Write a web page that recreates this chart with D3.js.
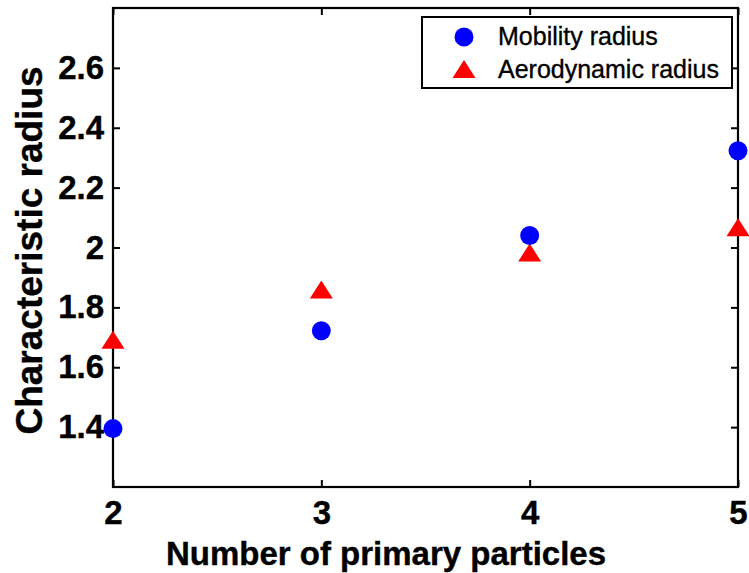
<!DOCTYPE html>
<html>
<head>
<meta charset="utf-8">
<script src="https://cdn.jsdelivr.net/npm/d3@7"></script>
<style>
  html, body { margin: 0; padding: 0; background: #fff; }
  svg { display: block; font-family: "Liberation Sans", Arial, Helvetica, sans-serif; }
</style>
</head>
<body>
<svg id="chart" width="749" height="573"></svg>
<script>
// Number of primary particles in the aggregate
const particles = [2, 3, 4, 5];
// Characteristic radii for each aggregate size
const mobilityRadius = [1.395, 1.722, 2.040, 2.323];
const aerodynamicRadius = [1.692, 1.860, 1.983, 2.068];
const yTicks = [1.4, 1.6, 1.8, 2.0, 2.2, 2.4, 2.6];
const xTicks = [2, 3, 4, 5];
const seriesNames = ["Mobility radius", "Aerodynamic radius"];

const svg = d3.select("#chart");
const plot = { left: 113, right: 738, top: 8, bottom: 487 };

const x = d3.scaleLinear().domain([2, 5]).range([plot.left, plot.right]);
const y = d3.scaleLinear().domain([1.2, 2.8]).range([plot.bottom, plot.top]);

const tickLen = 7;
const fmtY = d => (d === 2 ? "2" : d3.format(".1f")(d));

// Axes with inward ticks on all four sides
const axisStyle = g => {
  g.selectAll(".domain").remove();
  g.selectAll(".tick line").attr("stroke", "#000").attr("stroke-width", 2);
  g.selectAll(".tick text").attr("fill", "#000").attr("font-weight", "bold").attr("font-size", 33)
    .attr("stroke", "#000").attr("stroke-width", 0.4);
};

svg.append("g")
  .attr("transform", `translate(0,${plot.bottom})`)
  .call(d3.axisBottom(x).tickValues(xTicks).tickSize(-tickLen).tickPadding(14).tickFormat(d3.format("d")))
  .call(axisStyle);

svg.append("g")
  .attr("transform", `translate(0,${plot.top})`)
  .call(d3.axisTop(x).tickValues(xTicks).tickSize(-tickLen).tickFormat(""))
  .call(axisStyle);

svg.append("g")
  .attr("transform", `translate(${plot.left},0)`)
  .call(d3.axisLeft(y).tickValues(yTicks).tickSize(-tickLen).tickPadding(9).tickFormat(fmtY))
  .call(axisStyle);

svg.append("g")
  .attr("transform", `translate(${plot.right},0)`)
  .call(d3.axisRight(y).tickValues(yTicks).tickSize(-tickLen).tickFormat(""))
  .call(axisStyle);

// Plot frame
svg.append("rect")
  .attr("x", plot.left).attr("y", plot.top)
  .attr("width", plot.right - plot.left).attr("height", plot.bottom - plot.top)
  .attr("fill", "none").attr("stroke", "#000").attr("stroke-width", 2.2);

// Markers
const circleSym = d3.symbol().type(d3.symbolCircle).size(Math.PI * 9.5 * 9.5);
const triPath = (w, h) => `M0,${-h / 2}L${w / 2},${h / 2}L${-w / 2},${h / 2}Z`;

svg.append("g").selectAll("path")
  .data(particles.map((p, i) => [p, aerodynamicRadius[i]]))
  .join("path")
  .attr("transform", d => `translate(${x(d[0])},${y(d[1])})`)
  .attr("d", triPath(23, 18))
  .attr("fill", "#ff0000");

svg.append("g").selectAll("path")
  .data(particles.map((p, i) => [p, mobilityRadius[i]]))
  .join("path")
  .attr("transform", d => `translate(${x(d[0])},${y(d[1])})`)
  .attr("d", circleSym)
  .attr("fill", "#0000ff");

// Axis titles
svg.append("text")
  .attr("x", 386).attr("y", 565)
  .attr("text-anchor", "middle")
  .attr("font-size", 33).attr("font-weight", "bold")
  .attr("stroke", "#000").attr("stroke-width", 0.4)
  .text("Number of primary particles");

svg.append("text")
  .attr("transform", `translate(42,${(plot.top + plot.bottom) / 2 + 3}) rotate(-90)`)
  .attr("text-anchor", "middle")
  .attr("font-size", 37).attr("font-weight", "bold")
  .attr("stroke", "#000").attr("stroke-width", 0.4)
  .text("Characteristic radius");

// Legend
const legend = svg.append("g");
legend.append("rect")
  .attr("x", 422).attr("y", 17).attr("width", 310).attr("height", 71)
  .attr("fill", "#fff").attr("stroke", "#000").attr("stroke-width", 2);

legend.append("path")
  .attr("transform", "translate(464,37)")
  .attr("d", circleSym).attr("fill", "#0000ff");
legend.append("path")
  .attr("transform", "translate(464,69)")
  .attr("d", triPath(23, 18)).attr("fill", "#ff0000");

legend.selectAll("text.lab")
  .data(seriesNames)
  .join("text")
  .attr("class", "lab")
  .attr("x", 498).attr("y", (d, i) => 45 + i * 33)
  .attr("font-size", 25)
  .attr("fill", "#000")
  .attr("stroke", "#000").attr("stroke-width", 0.35)
  .text(d => d);
</script>
</body>
</html>
